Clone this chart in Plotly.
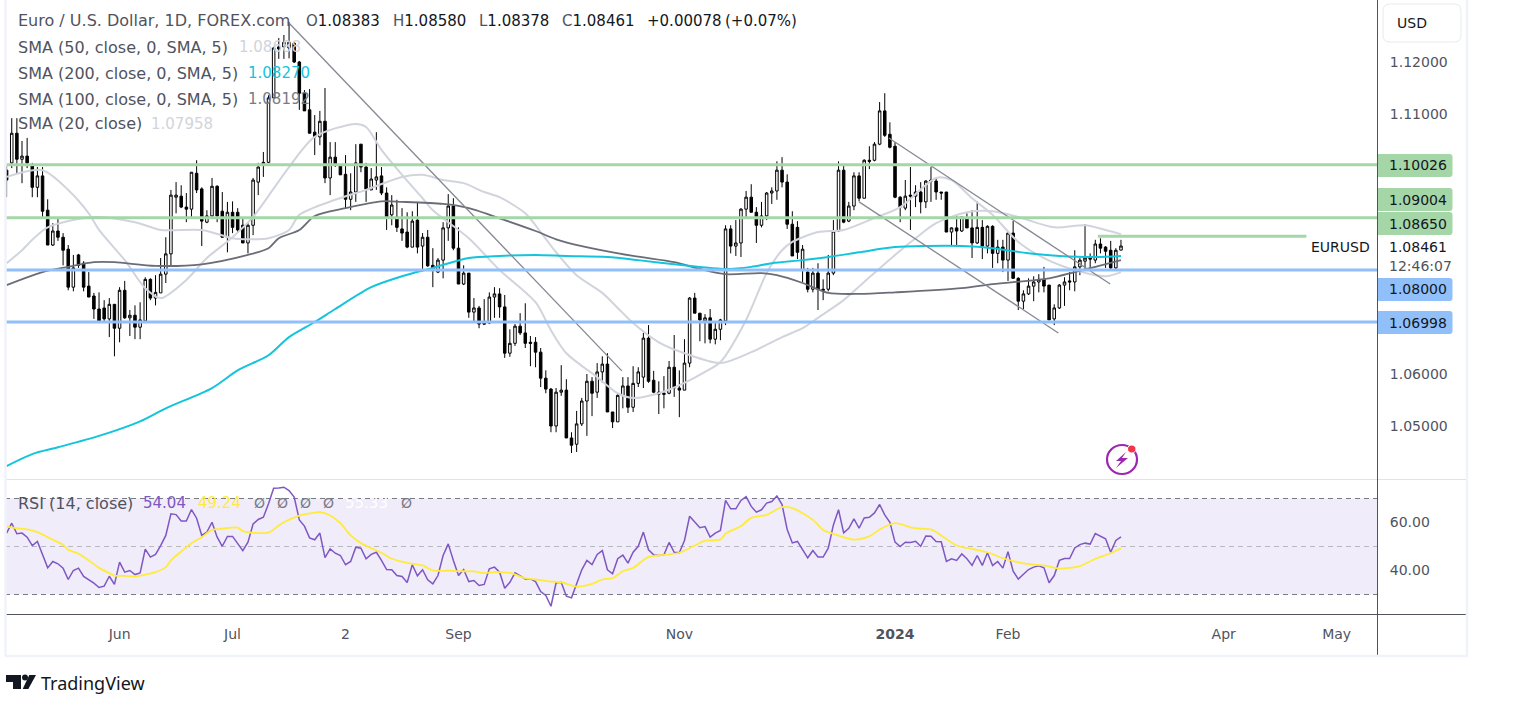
import plotly.graph_objects as go

# ---------- daily candles (bar index = trading day) ----------
OPEN = [
1.0992,1.1006,1.1063,1.1013,1.1019,1.1000,1.0959,1.0981,1.0915,1.0848,
1.0875,1.0863,1.0840,1.0767,1.0829,1.0813,1.0769,1.0750,1.0725,1.0727,
1.0706,1.0734,1.0688,1.0761,1.0708,1.0713,1.0690,1.0702,1.0782,1.0746,
1.0756,1.0792,1.0831,1.0940,1.0942,1.0921,1.0917,1.0986,1.0956,1.0892,
1.0904,1.0961,1.0913,1.0863,1.0911,1.0911,1.0886,1.0852,1.0886,1.0969,
1.1004,1.1007,1.1131,1.1229,1.1229,1.1227,1.1236,1.1200,1.1140,1.1108,
1.1065,1.1056,1.1086,1.0977,1.1017,1.1000,1.0984,1.0936,1.0950,1.1042,
1.0998,1.0954,1.0973,1.0981,1.0948,1.0906,1.0902,1.0879,1.0873,1.0844,
1.0896,1.0846,1.0863,1.0809,1.0796,1.0819,1.0881,1.0923,1.0842,1.0773,
1.0794,1.0719,1.0727,1.0698,1.0698,1.0748,1.0754,1.0729,1.0640,1.0659,
1.0692,1.0679,1.0661,1.0661,1.0642,1.0592,1.0571,1.0500,1.0565,1.0569,
1.0477,1.0465,1.0504,1.0548,1.0586,1.0565,1.0604,1.0619,1.0527,1.0508,
1.0559,1.0577,1.0536,1.0582,1.0594,1.0669,1.0588,1.0565,1.0563,1.0563,
1.0613,1.0573,1.0569,1.0621,1.0746,1.0717,1.0702,1.0708,1.0667,1.0686,
1.0702,1.0879,1.0846,1.0852,1.0917,1.0940,1.0911,1.0886,1.0904,1.0948,
1.0952,1.0992,1.0969,1.0888,1.0882,1.0800,1.0796,1.0763,1.0794,1.0763,
1.0763,1.0794,1.0875,1.0992,1.0894,1.0923,1.0981,1.0938,1.1011,1.1011,
1.1042,1.1106,1.1061,1.1038,1.0940,1.0919,1.0944,1.0942,1.0950,1.0931,
1.0973,1.0971,1.0950,1.0950,1.0873,1.0881,1.0875,1.0900,1.0881,1.0852,
1.0882,1.0846,1.0884,1.0832,1.0844,1.0819,1.0871,1.0784,1.0740,1.0754,
1.0769,1.0777,1.0782,1.0771,1.0706,1.0727,1.0771,1.0779,1.0777,1.0806,
1.0817,1.0823,1.0819,1.0850,1.0844,1.0838,1.0804,1.08383]
HIGH = [
1.1002,1.1092,1.1092,1.1048,1.1054,1.1006,1.0998,1.0998,1.0936,1.0890,
1.0902,1.0871,1.0848,1.0829,1.0831,1.0817,1.0796,1.0756,1.0757,1.0742,
1.0746,1.0734,1.0767,1.0779,1.0723,1.0732,1.0738,1.0786,1.0784,1.0790,
1.0823,1.0863,1.0954,1.0969,1.0963,1.0948,1.0988,1.1011,1.0959,1.0915,
1.0977,1.0963,1.0950,1.0931,1.0932,1.0919,1.0902,1.0890,1.0977,1.1006,
1.1027,1.1136,1.1229,1.1246,1.1252,1.1277,1.1238,1.1202,1.1146,1.1148,
1.1098,1.1106,1.1150,1.1046,1.1046,1.1002,1.1021,1.0986,1.1042,1.1042,
1.1006,1.0996,1.1065,1.0998,1.0959,1.0944,1.0935,1.0919,1.0911,1.0913,
1.0931,1.0871,1.0877,1.0842,1.0823,1.0892,1.0946,1.0938,1.0882,1.0809,
1.0794,1.0746,1.0731,1.0744,1.0757,1.0767,1.0765,1.0752,1.0686,1.0696,
1.0717,1.0736,1.0673,1.0671,1.0650,1.0607,1.0573,1.0573,1.0617,1.0590,
1.0488,1.0529,1.0554,1.0600,1.0594,1.0621,1.0634,1.0640,1.0527,1.0561,
1.0594,1.0594,1.0615,1.0613,1.0679,1.0694,1.0606,1.0586,1.0596,1.0625,
1.0675,1.0607,1.0667,1.0748,1.0756,1.0717,1.0715,1.0725,1.0698,1.0706,
1.0886,1.0886,1.0896,1.0919,1.0952,1.0965,1.0921,1.0931,1.0950,1.0959,
1.1009,1.1017,1.0984,1.0913,1.0894,1.0848,1.0804,1.0804,1.0813,1.0782,
1.0829,1.0896,1.1009,1.1002,1.0931,1.0988,1.0988,1.1013,1.1038,1.1046,
1.1123,1.1140,1.1084,1.1046,1.0942,1.0973,1.0998,1.0963,1.0969,1.0973,
1.0998,1.0977,1.0950,1.0950,1.0882,1.0906,1.0902,1.0909,1.0915,1.0932,
1.0896,1.0886,1.0886,1.0858,1.0858,1.0873,1.0894,1.0786,1.0761,1.0784,
1.0788,1.0792,1.0806,1.0771,1.0734,1.0773,1.0786,1.0796,1.0838,1.0823,
1.0888,1.0832,1.0858,1.0861,1.0846,1.0856,1.0842,1.0858]
LOW = [
1.0940,1.0996,1.0986,1.0967,1.0996,1.0940,1.0940,1.0902,1.0848,1.0846,
1.0856,1.0809,1.0761,1.0759,1.0804,1.0759,1.0748,1.0706,1.0702,1.0702,
1.0671,1.0634,1.0661,1.0706,1.0673,1.0667,1.0667,1.0702,1.0742,1.0732,
1.0756,1.0775,1.0806,1.0909,1.0919,1.0892,1.0902,1.0948,1.0846,1.0890,
1.0900,1.0892,1.0863,1.0834,1.0871,1.0871,1.0852,1.0832,1.0867,1.0944,
1.0979,1.1006,1.1131,1.1206,1.1206,1.1207,1.1198,1.1108,1.1106,1.1063,
1.1021,1.1040,1.0967,1.0944,1.0998,1.0983,1.0919,1.0915,1.0931,1.0988,
1.0931,1.0954,1.0954,1.0944,1.0877,1.0886,1.0873,1.0856,1.0842,1.0844,
1.0832,1.0802,1.0806,1.0767,1.0794,1.0784,1.0856,1.0838,1.0773,1.0771,
1.0708,1.0700,1.0688,1.0696,1.0696,1.0708,1.0708,1.0631,1.0633,1.0654,
1.0675,1.0650,1.0615,1.0613,1.0575,1.0563,1.0488,1.0488,1.0558,1.0477,
1.0448,1.0450,1.0500,1.0481,1.0519,1.0554,1.0583,1.0527,1.0496,1.0508,
1.0534,1.0525,1.0527,1.0575,1.0573,1.0583,1.0563,1.0523,1.0534,1.0561,
1.0556,1.0517,1.0569,1.0613,1.0717,1.0663,1.0659,1.0659,1.0657,1.0665,
1.0694,1.0832,1.0827,1.0825,1.0902,1.0911,1.0852,1.0882,1.0896,1.0927,
1.0935,1.0959,1.0879,1.0827,1.0821,1.0777,1.0757,1.0757,1.0723,1.0742,
1.0759,1.0790,1.0873,1.0890,1.0892,1.0915,1.0932,1.0938,1.0994,1.1009,
1.1040,1.1056,1.1034,1.0938,1.0892,1.0915,1.0877,1.0921,1.0909,1.0919,
1.0931,1.0935,1.0935,1.0873,1.0846,1.0846,1.0873,1.0881,1.0823,1.0850,
1.0821,1.0832,1.0804,1.0813,1.0796,1.0779,1.0783,1.0723,1.0725,1.0752,
1.0740,1.0757,1.0757,1.0704,1.0694,1.0725,1.0731,1.0761,1.0759,1.0790,
1.0800,1.0802,1.0813,1.0832,1.0804,1.0802,1.0802,1.08378]
CLOSE = [
1.0973,1.1063,1.1013,1.1019,1.1006,1.0959,1.0981,1.0913,1.0848,1.0875,
1.0863,1.0838,1.0767,1.0804,1.0809,1.0767,1.0748,1.0725,1.0702,1.0706,
1.0734,1.0688,1.0761,1.0708,1.0713,1.0690,1.0704,1.0782,1.0746,1.0757,
1.0792,1.0831,1.0944,1.0944,1.0921,1.0917,1.0988,1.0954,1.0894,1.0904,
1.0961,1.0904,1.0863,1.0911,1.0882,1.0877,1.0852,1.0886,1.0973,1.0998,
1.1007,1.1131,1.1227,1.1225,1.1238,1.1238,1.1200,1.1140,1.1106,1.1063,
1.1056,1.1086,1.0977,1.1017,1.1002,1.0983,1.0936,1.0950,1.1006,1.0998,
1.0956,1.0975,1.0979,1.0948,1.0902,1.0925,1.0882,1.0871,1.0844,1.0894,
1.0844,1.0863,1.0808,1.0802,1.0819,1.0881,1.0923,1.0842,1.0773,1.0794,
1.0719,1.0727,1.0696,1.0696,1.0748,1.0754,1.0729,1.0640,1.0659,1.0692,
1.0679,1.0659,1.0659,1.0642,1.0592,1.0571,1.0500,1.0565,1.0569,1.0477,
1.0463,1.0504,1.0548,1.0586,1.0563,1.0604,1.0619,1.0527,1.0508,1.0559,
1.0577,1.0536,1.0582,1.0604,1.0669,1.0586,1.0565,1.0561,1.0561,1.0613,
1.0573,1.0569,1.0621,1.0746,1.0717,1.0704,1.0708,1.0667,1.0686,1.0704,
1.0879,1.0846,1.0852,1.0917,1.0940,1.0911,1.0886,1.0904,1.0948,1.0952,
1.0992,1.0969,1.0888,1.0827,1.0834,1.0840,1.0763,1.0794,1.0763,1.0761,
1.0794,1.0875,1.0992,1.0892,1.0923,1.0981,1.0938,1.1011,1.1009,1.1042,
1.1106,1.1059,1.1036,1.0940,1.0921,1.0942,1.0942,1.0950,1.0931,1.0971,
1.0971,1.0950,1.0948,1.0873,1.0881,1.0875,1.0902,1.0881,1.0852,1.0882,
1.0846,1.0884,1.0832,1.0844,1.0819,1.0871,1.0784,1.0740,1.0754,1.0769,
1.0777,1.0782,1.0769,1.0704,1.0727,1.0771,1.0777,1.0777,1.0806,1.0819,
1.0823,1.0821,1.0850,1.0842,1.0836,1.0804,1.0838,1.08461]

# ---------- moving averages, read at sample bars ----------
SMA20_BAR = [0,7,12,16,18,23,27,30,35,39,44,48,55,60,68,70,73,77,81,83,90,96,103,106,109,115,119,122,127,132,136,139,144,148,151,153,158,163,169,174,181,184,188,192,197,202,208,214,217]
SMA20 = [1.0979,1.0992,1.0954,1.0909,1.0877,1.0819,1.0765,1.0746,1.0781,1.0823,1.0863,1.0902,1.0998,1.1056,1.1081,1.1075,1.1031,1.0983,1.0938,1.0915,1.0861,1.0800,1.0738,1.0684,1.0640,1.0594,1.0563,1.0554,1.0563,1.0583,1.0604,1.0623,1.0704,1.0794,1.0838,1.0854,1.0873,1.0877,1.0900,1.0921,1.0977,1.0973,1.0938,1.0906,1.0854,1.0823,1.0800,1.0788,1.0796]
SMA50_BAR = [0,3,5,8,17,25,30,38,44,47,51,55,57,64,70,77,81,85,89,93,96,101,104,107,111,116,119,122,127,132,139,145,151,155,158,163,167,173,177,181,187,192,197,204,210,214,217]
SMA50 = [1.0813,1.0838,1.0858,1.0882,1.0902,1.0892,1.0877,1.0877,1.0861,1.0859,1.0861,1.0877,1.0906,1.0935,1.0954,1.0979,1.0983,1.0973,1.0967,1.0950,1.0940,1.0909,1.0873,1.0834,1.0790,1.0756,1.0727,1.0698,1.0661,1.0640,1.0621,1.0642,1.0671,1.0688,1.0708,1.0742,1.0777,1.0829,1.0861,1.0890,1.0911,1.0913,1.0902,1.0882,1.0886,1.0877,1.0869]
SMA100_BAR = [0,7,12,17,21,29,38,47,51,53,57,60,66,73,77,85,90,97,103,107,112,122,130,135,140,147,150,155,160,166,173,186,192,203,208,212,217]
SMA100 = [1.0771,1.0796,1.0806,1.0815,1.0815,1.0808,1.0811,1.0829,1.0842,1.0861,1.0877,1.0904,1.0919,1.0932,1.0931,1.0927,1.0919,1.0896,1.0875,1.0859,1.0846,1.0827,1.0815,1.0802,1.0792,1.0794,1.0790,1.0775,1.0756,1.0754,1.0757,1.0765,1.0773,1.0784,1.0796,1.0806,1.0819]
SMA200_BAR = [0,5,10,18,26,31,40,45,51,55,60,64,71,77,83,90,96,103,109,117,123,130,135,140,145,149,155,160,166,173,179,186,192,199,205,212,217]
SMA200 = [1.0423,1.0446,1.0459,1.0481,1.0509,1.0534,1.0573,1.0607,1.0636,1.0671,1.0700,1.0725,1.0767,1.0788,1.0804,1.0823,1.0827,1.0829,1.0827,1.0825,1.0819,1.0811,1.0806,1.0802,1.0806,1.0813,1.0819,1.0825,1.0834,1.0844,1.0846,1.0846,1.0842,1.0832,1.0827,1.0825,1.0827]

# ---------- RSI(14) per bar, and its moving average at sample bars ----------
RSI = [
55.6,59.7,55.3,55.6,53.9,50.4,52.1,46.9,41.1,43.75,42.8,41,36.25,40,41,37.5,36.25,34.7,32.9,33.5,
37.6,34.2,43.5,39.3,40,38.3,39,48.9,45.6,46.7,50.4,54.6,63.6,63.3,60.6,60.6,65.4,61.8,54.6,56,
60.1,53.9,50.1,54.2,54.2,51.1,48.3,51.8,59.4,61.25,62.2,67.8,74.3,74.4,74.7,73.3,70.6,61.1,58.5,53.6,
52.8,55.6,45.4,49,47.2,46.25,42.4,43.75,49.7,49.3,44.9,46.7,47.6,44.2,40.4,40.3,37.9,37.5,35,42.4,
37.8,40.3,36.1,34.4,37.9,46.25,51.1,44.2,37.9,
40.4,35.4,35.8,33.75,34.2,40.7,41.4,39.3,32.6,35.1,39,37.9,36.5,36.5,35.4,31.25,29.6,25.1,34.9,35.1,
29.3,28.6,34.4,40.3,44.2,42.5,46.7,48.3,40.3,38.6,44.9,46.4,43.1,47.6,50.1,56,48.6,46.5,46.25,46.5,
51.7,47.6,47.4,52.5,62.6,60.1,57.8,58.3,53.9,55.6,56.7,69.2,65.7,65.7,69.2,70.8,66.7,64.3,65.3,68.1,
68.75,71,67.5,57.1,51.5,52.1,48.75,45.3,48.3,45.6,45.6,49.3,59,65.3,55.7,57.6,61.5,57.6,61.9,62.2,
64,67.5,63.2,60.1,51.8,50,51.8,51.7,52.2,50.1,
54.4,54.3,52.1,52,43.75,44.9,44.2,46.9,44.9,42.1,46.25,42.1,47.4,42.1,43.75,41,47.8,39.7,36.4,38.2,
40.4,41.4,42,41.1,34.9,37.9,44.2,45,45,49.4,50.8,51.4,51,55.4,54.3,53.2,47.6,52.5,54.04]
RSI_MA_BAR = [0,2,4,6,8,9,11,12,14,16,18,20,21,23,25,27,29,31,32,34,36,38,40,42,45,46,48,51,53,54,57,59,61,63,65,67,69,71,73,75,78,81,83,86,88,
91,93,95,98,101,103,106,108,111,114,116,118,120,122,125,127,131,134,136,139,140,143,145,148,151,153,157,159,161,165,168,170,173,176,178,
180,182,185,188,191,194,198,202,205,207,209,212,215,217]
RSI_MA = [58.3,57.6,57.1,56,53.9,52.8,50.7,48.6,47,44.2,41.1,38.9,37.9,37.8,37.5,38.3,39.3,41.4,44.2,47.9,51.4,53.9,56.9,57.4,57.9,56.4,55.7,55.8,58.75,60.1,62.9,63.75,64.3,62.9,59.7,54.6,51.4,49.3,47.4,44.9,43.2,42.1,40,39.9,39.7,
39.6,38.9,39.3,39,36.8,36.25,35.4,35.1,33.3,34.4,36.25,36.8,39.7,41.1,45.7,46.25,47.4,50.4,52.4,52.9,55.3,58.5,61.9,63.2,66.4,66,61.1,56.9,55.3,52.9,54.2,57.1,59.7,58,57.4,
57.1,54.6,50.4,49,47.6,45.1,43,42.1,40.8,41.1,41.8,44.9,47.2,49.24]

# ---------- drawn trend lines and levels ----------
TREND_A_BAR, TREND_A = [54.8, 119.8], [1.1277, 1.0606]
TREND_B_BAR, TREND_B = [171.8, 214.9], [1.1054, 1.0773]
TREND_C_BAR, TREND_C = [166.0, 204.8], [1.0931, 1.0679]
GREEN_LEVELS = [1.10026, 1.09004]
BLUE_LEVELS = [1.08000, 1.06998]
SHORT_LEVEL_BAR, SHORT_LEVEL = [212.5, 253.1], [1.0865, 1.0865]

X_TICK_BARS = [22, 44, 66, 88, 131, 173, 195, 237, 259]
X_TICK_TEXT = ["Jun", "Jul", "2", "Sep", "Nov", "<b>2024</b>", "Feb", "Apr", "May"]
PRICE_TICKS = [1.05, 1.06, 1.11, 1.12]
RSI_TICKS = [40, 60]

FONT = "DejaVu Sans"
GRAY_TXT = "#50535e"
W, H = 1535, 709
BAR_PX = 5.135
def px(x): return x / W
def py(y): return 1 - y / H

fig = go.Figure()
fig.add_trace(go.Candlestick(
    x=list(range(len(OPEN))), open=OPEN, high=HIGH, low=LOW, close=CLOSE,
    increasing=dict(line=dict(color="#000000", width=1), fillcolor="#ffffff"),
    decreasing=dict(line=dict(color="#000000", width=1), fillcolor="#000000"),
    whiskerwidth=0, hoverinfo="skip", showlegend=False))

def line(x, y, color, width, yaxis="y", shape="linear"):
    fig.add_trace(go.Scatter(x=x, y=y, mode="lines", yaxis=yaxis, hoverinfo="skip", showlegend=False,
                             line=dict(color=color, width=width, shape=shape,
                                       **({"smoothing": 0.8} if shape == "spline" else {}))))

line(SMA20_BAR, SMA20, "#d1d4dc", 2, shape="spline")
line(SMA50_BAR, SMA50, "#d1d4dc", 2, shape="spline")
line(SMA100_BAR, SMA100, "#6a6d78", 1.8, shape="spline")
line(SMA200_BAR, SMA200, "#14c4dc", 2, shape="spline")
line(TREND_A_BAR, TREND_A, "#868993", 1.3)
line(TREND_B_BAR, TREND_B, "#868993", 1.3)
line(TREND_C_BAR, TREND_C, "#868993", 1.3)
line(SHORT_LEVEL_BAR, SHORT_LEVEL, "#a5d6a7", 3)
line(list(range(len(RSI))), RSI, "#7e57c2", 1.5, "y2")
line(RSI_MA_BAR, RSI_MA, "#ffeb3b", 1.8, "y2", shape="spline")

shapes, ann = [], []
def hl(y, yref, color, width, dash=None, layer="above"):
    shapes.append(dict(type="line", xref="x domain", x0=0, x1=1, yref=yref, y0=y, y1=y, layer=layer,
                       line=dict(color=color, width=width, dash=dash)))
for v in GREEN_LEVELS: hl(v, "y", "#a5d6a7", 3)
for v in BLUE_LEVELS: hl(v, "y", "#90bff9", 3)
shapes.append(dict(type="rect", xref="x domain", x0=0, x1=1, yref="y2", y0=30, y1=70, layer="below",
                   fillcolor="#f0ecf9", line=dict(width=0)))
hl(70, "y2", "#787b86", 1, "5px,4px", "below")
hl(30, "y2", "#787b86", 1, "5px,4px", "below")
hl(50, "y2", "#b8b9c0", 1, "5px,4px", "below")

def pline(x0, y0, x1, y1, color, width):
    shapes.append(dict(type="line", xref="paper", yref="paper", x0=px(x0), y0=py(y0), x1=px(x1), y1=py(y1),
                       layer="above", line=dict(color=color, width=width)))
pline(5, 479.5, 1466, 479.5, "#e0e3eb", 1)
pline(5, 614.5, 1466, 614.5, "#50535e", 1)
pline(1377.5, 0, 1377.5, 655, "#50535e", 1)
pline(5.5, 0, 5.5, 656, "#f0f3fa", 2.5)
pline(1467, 0, 1467, 656, "#f0f3fa", 2.5)
pline(5, 656, 1468, 656, "#f0f3fa", 2.5)

def path(d_pts, fill=None, stroke=None, width=0):
    shapes.append(dict(type="path", xref="paper", yref="paper", path=d_pts, fillcolor=fill, layer="above",
                       line=dict(color=stroke or "rgba(0,0,0,0)", width=width)))
def round_rect(x0, y0, x1, y1, r, fill, stroke=None, width=0, left_round=False):
    lr = r if left_round else 0
    a = lambda x, y: f"{px(x):.5f},{py(y):.5f}"
    d = (f"M{a(x0+lr,y0)} L{a(x1-r,y0)} Q{a(x1,y0)} {a(x1,y0+r)} L{a(x1,y1-r)} Q{a(x1,y1)} {a(x1-r,y1)} "
         f"L{a(x0+lr,y1)} Q{a(x0,y1)} {a(x0,y1-lr)} L{a(x0,y0+lr)} Q{a(x0,y0)} {a(x0+lr,y0)} Z")
    path(d, fill, stroke, width)
def poly(pts, fill):
    path("M" + " L".join(f"{px(x):.5f},{py(y):.5f}" for x, y in pts) + " Z", fill)

def txt(x, y, s, color=GRAY_TXT, size=14, family=FONT):
    ann.append(dict(xref="paper", yref="paper", x=px(x - 1), y=py(y), text=s, showarrow=False,
                    xanchor="left", yanchor="middle", borderpad=0,
                    font=dict(family=family, size=size, color=color)))

# price labels on the axis
for y0, y1, c, s in [(154, 177, "#a5d6a7", "1.10026"), (188, 211, "#a5d6a7", "1.09004"),
                     (212, 235, "#a5d6a7", "1.08650"), (278, 301, "#90bff9", "1.08000"),
                     (311, 334, "#90bff9", "1.06998")]:
    round_rect(1378, y0, 1452.5, y1, 3, c)
    txt(1389, (y0 + y1) / 2, s, "#131722")
txt(1389, 247, "1.08461", "#131722")
txt(1389, 266, "12:46:07", GRAY_TXT)
txt(1311, 247, "EURUSD", "#131722")
round_rect(1383, 4, 1461, 42, 7, "#ffffff", "#e8eaf0", 1, True)
txt(1397, 23, "USD", "#131722")

# legend block
LABEL = 16
VALUE = 15
txt(18, 21, "Euro / U.S. Dollar, 1D, FOREX.com", size=LABEL)
for x, letter, s in [(306, "O", "1.08383"), (393, "H", "1.08580"), (479, "L", "1.08378"), (562, "C", "1.08461")]:
    txt(x, 21, f"{letter}<span style='color:#131722'>{s}</span>", GRAY_TXT, VALUE)
txt(647, 21, "+0.00078", "#131722", VALUE)
txt(725, 21, "(+0.07%)", "#131722", VALUE)
txt(18, 47, "SMA (50, close, 0, SMA, 5)", size=LABEL)
txt(239, 47, "1.08688", "#d1d4dc", VALUE)
txt(18, 73, "SMA (200, close, 0, SMA, 5)", size=LABEL)
txt(248, 73, "1.08270", "#14c4dc", VALUE)
txt(18, 99, "SMA (100, close, 0, SMA, 5)", size=LABEL)
txt(248, 99, "1.08192", "#787b86", VALUE)
txt(18, 124, "SMA (20, close)", size=LABEL)
txt(151, 124, "1.07958", "#d1d4dc", VALUE)
txt(18, 503, "RSI (14, close)", size=LABEL)
txt(143, 503, "54.04", "#7e57c2", VALUE)
txt(198, 503, "49.24", "#ffeb3b", VALUE)
for x in (254, 277, 300, 323, 401):
    txt(x, 503, "Ø", "#787b86", 14)
txt(345, 503, "55.33", "#ffffff", VALUE)

# TradingView mark
poly([(6, 675), (21, 675), (21, 689), (13, 689), (13, 682), (6, 682)], "#131722")
poly([(29.3, 675), (36, 675), (28.3, 689), (22.7, 689)], "#131722")
shapes.append(dict(type="circle", xref="paper", yref="paper", x0=px(22), x1=px(28), y0=py(680.5), y1=py(674.5),
                   fillcolor="#131722", line=dict(width=0)))
txt(41, 683, "TradingView", "#131722", 18, "Noto Sans")

# snapshot badge
shapes.append(dict(type="circle", xref="paper", yref="paper", x0=px(1107), x1=px(1137), y0=py(474), y1=py(445),
                   line=dict(color="#9c27b0", width=2.2), layer="above"))
shapes.append(dict(type="circle", xref="paper", yref="paper", x0=px(1127.5), x1=px(1136), y0=py(453), y1=py(445),
                   fillcolor="#f23645", line=dict(color="#ffffff", width=1), layer="above"))
poly([(1126, 452), (1116, 461), (1121, 461), (1116, 468), (1128, 458), (1122, 458)], "#9c27b0")

n = len(OPEN)
fig.update_layout(
    width=W, height=H, margin=dict(l=0, r=0, t=0, b=0), autosize=False,
    paper_bgcolor="#ffffff", plot_bgcolor="#ffffff", showlegend=False, boxgap=0.3, hovermode=False,
    shapes=shapes, annotations=ann,
    xaxis=dict(domain=[px(5), px(1377)], anchor="y2", rangeslider=dict(visible=False),
               range=[(5 - 6.6) / BAR_PX, (n - 1) + (1377 - 1121) / BAR_PX],
               tickmode="array", tickvals=X_TICK_BARS, ticktext=X_TICK_TEXT, tickangle=0,
               ticks="outside", ticklen=7, tickcolor="rgba(0,0,0,0)", showgrid=False, zeroline=False,
               tickfont=dict(family=FONT, size=14, color=GRAY_TXT)),
    yaxis=dict(domain=[py(479), py(0)], anchor="x", side="right",
               range=[1.12 - (479 - 62) / 5200, 1.12 + 62 / 5200],
               tickmode="array", tickvals=PRICE_TICKS, ticktext=[f"{v:.5f}" for v in PRICE_TICKS],
               ticks="outside", ticklen=9, tickcolor="rgba(0,0,0,0)", showgrid=False, zeroline=False,
               tickfont=dict(family=FONT, size=14, color=GRAY_TXT)),
    yaxis2=dict(domain=[py(614), py(480)], anchor="x", side="right",
                range=[70 - (115.5) / 2.4, 70 + 18.5 / 2.4],
                tickmode="array", tickvals=RSI_TICKS, ticktext=[f"{v:.2f}" for v in RSI_TICKS],
                ticks="outside", ticklen=9, tickcolor="rgba(0,0,0,0)", showgrid=False, zeroline=False,
                tickfont=dict(family=FONT, size=14, color=GRAY_TXT)),
)
fig.write_html("out.html", config={"displayModeBar": False},
               post_script="document.body.style.margin='0';")
